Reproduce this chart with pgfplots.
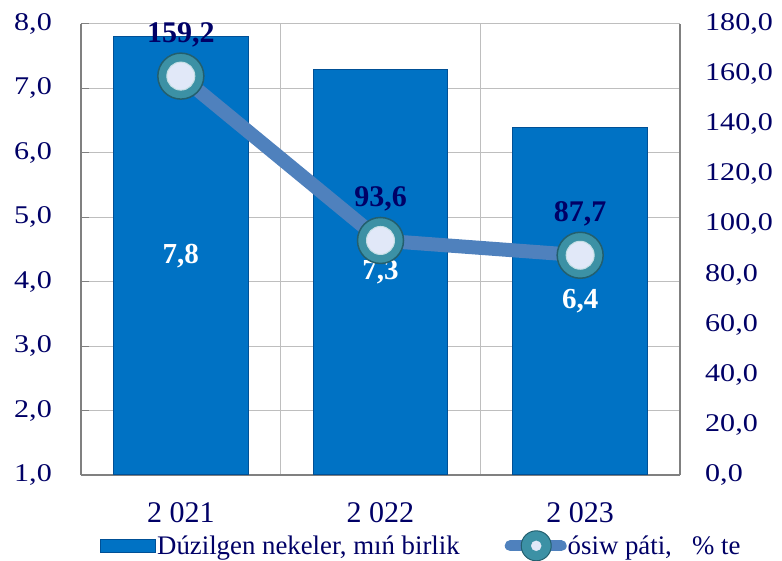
\documentclass[border=0pt]{standalone}
\usepackage{pgfplots}
\pgfplotsset{compat=1.18}
\usepackage{fontspec}
\setmainfont{Liberation Serif}
\newfontfamily\tickfont{Liberation Serif}[FakeStretch=1.18]

\definecolor{navy}{RGB}{0,0,102}
\definecolor{barblue}{RGB}{0,114,196}
\definecolor{baredge}{RGB}{0,80,150}
\definecolor{lineblue}{RGB}{79,129,189}
\definecolor{markteal}{RGB}{60,145,165}
\definecolor{markedge}{RGB}{35,95,110}
\definecolor{markin}{RGB}{225,232,248}
\definecolor{gridgray}{RGB}{190,190,190}

\pgfplotstableread{
x val
0 7.8
1 7.3
2 6.4
}\bardata

\pgfplotstableread{
x pct
0 159.2
1 93.6
2 87.7
}\linedata

\pgfplotsset{
  common/.style={
    scale only axis, width=599pt, height=451pt,
    xmin=-0.5, xmax=2.5,
    /pgf/number format/assume math mode=true,
    /pgf/number format/.cd, fixed, fixed zerofill, precision=1, use comma, 1000 sep={},
    /pgfplots/.cd,
  },
}

\begin{document}
\begin{tikzpicture}
\begin{axis}[
  common,
  ymin=1, ymax=8,
  ytick={1,2,...,8},
  axis y line*=left, axis x line*=bottom,
  axis line style={draw=gray, line width=1.2pt},
  xtick={0,1,2}, xticklabels={2 021,2 022,2 023},
  minor xtick={-0.5,0.5,1.5,2.5},
  xminorgrids=true, ymajorgrids=true,
  grid style={draw=gridgray, line width=1pt},
  minor grid style={draw=gridgray, line width=1pt},
  major tick length=8pt, minor tick length=0pt,
  tick style={draw=gray, line width=1pt},
  y tick label style={font=\tickfont\fontsize{25.5}{25.5}\selectfont, text=navy, inner sep=0pt, xshift=-29pt},
  x tick label style={font=\fontsize{30}{30}\selectfont, text=navy, inner sep=0pt, yshift=-27pt},
  xtick style={draw=gray, line width=1pt, yshift=4pt},
]
\addplot[ybar, bar width=0.673, fill=barblue, draw=baredge, line width=1pt,
  nodes near coords,
  visualization depends on={rawy \as \ry},
  every node near coord/.append style={
    font=\bfseries\fontsize{29}{29}\selectfont, text=white, anchor=center,
    shift={(axis direction cs:0,{-(\ry-1)/2})}},
] table[x=x, y=val] {\bardata};
\end{axis}

\begin{axis}[
  common,
  ymin=0, ymax=180,
  ytick={0,20,...,180},
  axis y line*=right, axis x line=none,
  axis line style={draw=gray, line width=1.2pt},
  major tick length=0pt,
  y tick label style={font=\tickfont\fontsize{25.5}{25.5}\selectfont, text=navy, inner sep=0pt, xshift=25pt},
  legend style={at={(0.032,-0.157)}, anchor=west, legend columns=2, draw=none, fill=none,
    inner sep=0pt, nodes={inner sep=1pt},
    font=\fontsize{26.8}{28}\selectfont, text=navy,
    /tikz/every even column/.append style={column sep=44pt}},
  legend cell align=left,
]
\addplot[lineblue, line width=14pt, forget plot] table[x=x, y=pct] {\linedata};
\addplot[only marks, mark=*, mark size=23pt, mark options={fill=markteal, draw=markedge, line width=1.5pt}, forget plot,
  nodes near coords,
  every node near coord/.append style={
    font=\bfseries\fontsize{30}{30}\selectfont, text=navy, anchor=south, yshift=25pt},
] table[x=x, y=pct] {\linedata};
\addplot[only marks, mark=*, mark size=14pt, mark options={fill=markin, draw=white!70!markteal, line width=1pt}, forget plot]
  table[x=x, y=pct] {\linedata};

\addlegendimage{legend image code/.code={
  \draw[fill=barblue, draw=baredge, line width=0.8pt] (0pt,-7pt) rectangle (55pt,6pt);}}
\addlegendimage{legend image code/.code={
  \draw[lineblue, line width=11pt, line cap=round] (5pt,0pt) -- (56pt,0pt);
  \draw[fill=markteal, draw=markedge, line width=1pt] (31pt,0pt) circle (15pt);
  \fill[markin] (31pt,0pt) circle (5pt);}}
\legend{{Dúzilgen nekeler, mıń birlik}, {ósiw páti,\ \ \ \% te}}
\end{axis}
\pgfresetboundingbox
\path (current axis.south west) ++(-81pt,-86pt);
\path (current axis.north east) ++(102pt,24pt);
\end{tikzpicture}
\end{document}
